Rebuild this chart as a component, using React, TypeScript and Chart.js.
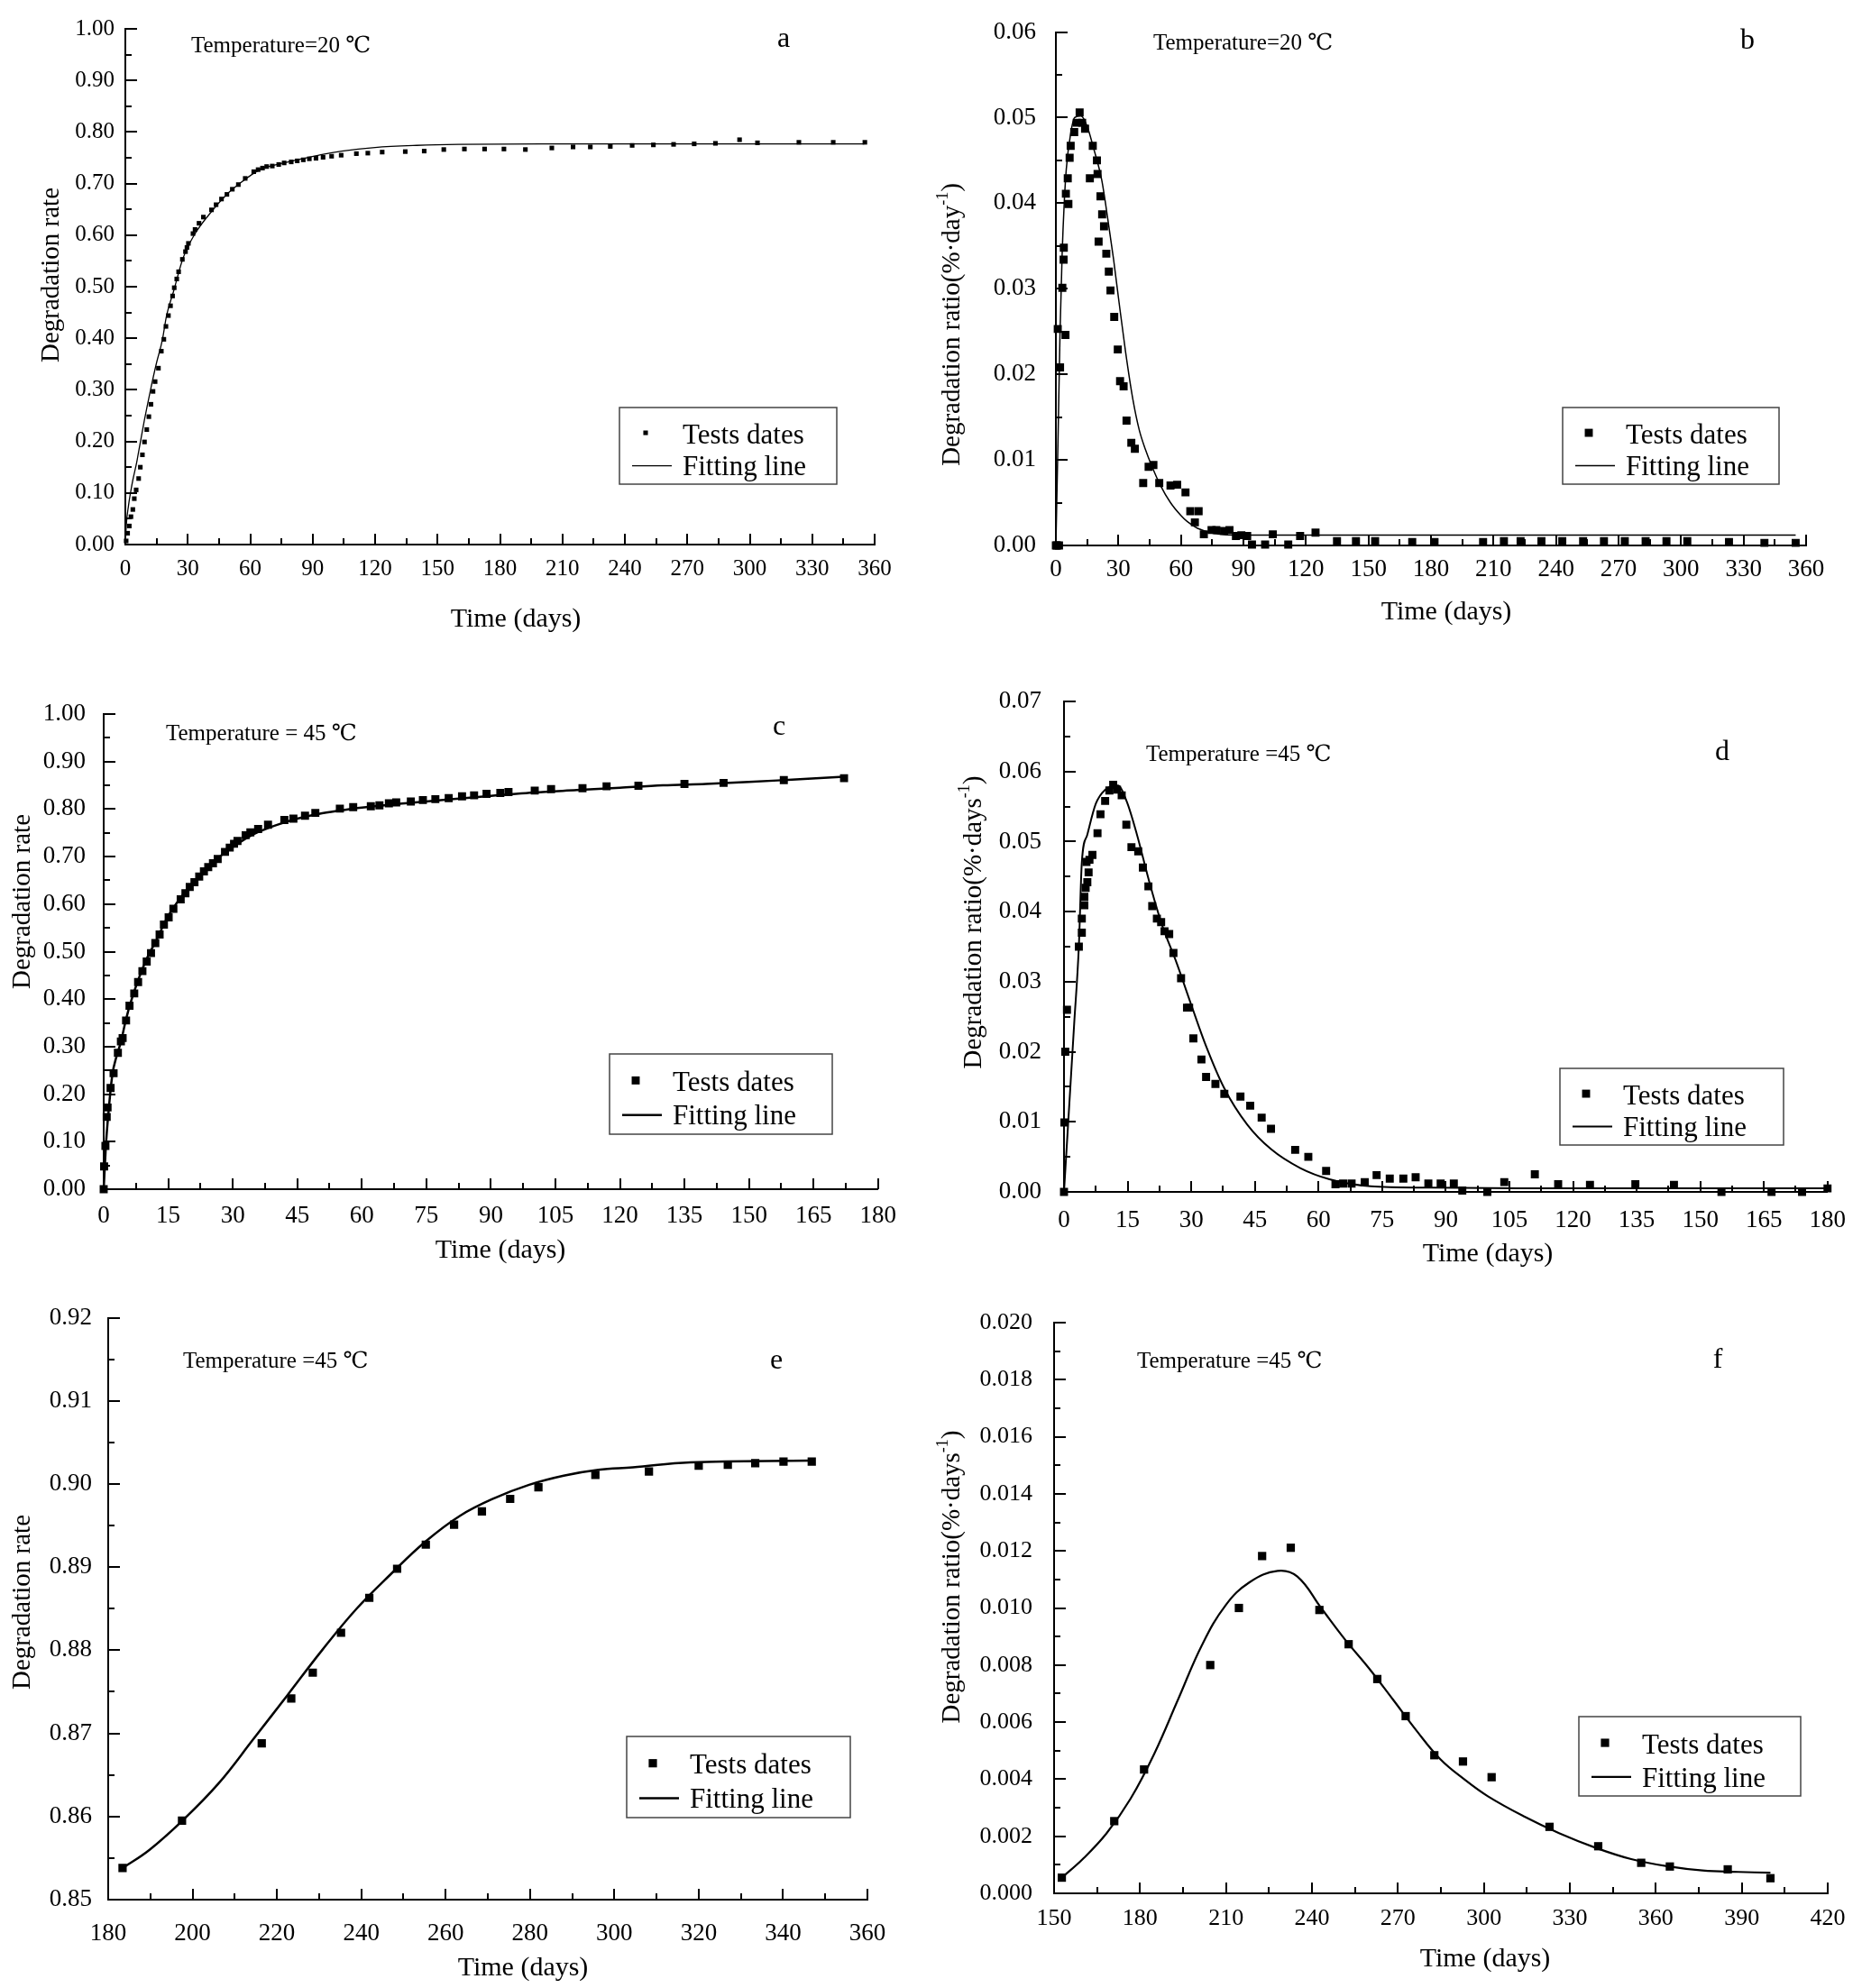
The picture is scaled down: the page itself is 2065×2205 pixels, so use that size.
import { useEffect, useRef } from 'react';
import { Chart, registerables } from 'chart.js';

Chart.register(...registerables);

const FONT = '"Liberation Serif", "Times New Roman", Tinos, "DejaVu Serif", serif';

// ---- panel a : degradation rate, 20 C
const aDays = [0.4, 1.1, 1.9, 2.7, 3.6, 4.3, 5.2, 6.4, 7.2, 8.2, 9.2, 10.3, 11.3, 12.3, 13.3, 14.3, 15.9, 17.3, 18.5, 19.5, 20.7, 21.7, 22.7, 23.5, 24.7, 25.6, 27.4, 28.9, 29.6, 30.3, 32.5, 33.5, 35.4, 37.5, 41.4, 43.6, 46.2, 48.8, 51.4, 54.3, 57.6, 61.7, 63.8, 65.9, 67.9, 70.6, 73.7, 76.3, 79.7, 82.6, 85.5, 88.4, 91.6, 95.0, 99.1, 103.7, 111.0, 116.5, 123.4, 134.5, 143.6, 153.0, 162.9, 172.6, 181.9, 192.2, 204.9, 215.1, 223.4, 233.0, 243.5, 253.7, 263.4, 273.3, 283.5, 295.1, 303.7, 323.6, 340.1, 355.3];
const aRate = [0.007, 0.022, 0.036, 0.054, 0.068, 0.089, 0.106, 0.128, 0.150, 0.174, 0.199, 0.223, 0.248, 0.272, 0.297, 0.316, 0.342, 0.375, 0.398, 0.423, 0.444, 0.463, 0.482, 0.498, 0.515, 0.529, 0.553, 0.568, 0.576, 0.584, 0.603, 0.611, 0.623, 0.635, 0.649, 0.659, 0.670, 0.679, 0.689, 0.698, 0.710, 0.723, 0.727, 0.730, 0.733, 0.734, 0.737, 0.740, 0.742, 0.744, 0.746, 0.748, 0.749, 0.751, 0.753, 0.755, 0.758, 0.759, 0.761, 0.762, 0.763, 0.766, 0.767, 0.767, 0.767, 0.766, 0.769, 0.771, 0.771, 0.772, 0.774, 0.775, 0.776, 0.777, 0.778, 0.785, 0.779, 0.780, 0.780, 0.780];
const aFitDays = [0, 0.5, 1.5, 2.6, 3.6, 5.5, 6.2, 9.1, 12, 14.9, 17.8, 19.8, 23.1, 27.7, 33.2, 41.9, 49.8, 54.9, 62.1, 66.4, 70.8, 83.8, 93.9, 104, 120, 140, 160, 200, 250, 300, 355];
const aFitRate = [0, 0.04, 0.075, 0.103, 0.125, 0.16, 0.176, 0.24, 0.298, 0.351, 0.397, 0.444, 0.49, 0.555, 0.601, 0.648, 0.683, 0.70, 0.721, 0.73, 0.735, 0.747, 0.756, 0.763, 0.77, 0.774, 0.776, 0.777, 0.777, 0.777, 0.777];

// ---- panel b : degradation ratio, 20 C
const bDays = [0, 0.5, 1.5, 0.9, 2.0, 3.1, 3.7, 3.8, 4.6, 4.8, 5.7, 6.0, 6.6, 7.1, 8.8, 10.0, 11.4, 12.6, 14.0, 16.3, 17.7, 19.7, 20.0, 20.5, 21.4, 22.2, 23.1, 24.2, 25.4, 26.2, 28.0, 29.7, 30.8, 32.5, 33.9, 36.2, 37.9, 41.9, 44.5, 46.8, 49.6, 55.0, 58.2, 62.2, 64.5, 66.7, 68.5, 71.0, 74.7, 77.0, 80.7, 83.3, 86.4, 89.0, 91.8, 94.1, 100.4, 104.1, 111.5, 117.2, 124.6, 134.9, 144.0, 153.2, 171.0, 181.7, 205.0, 215.0, 223.0, 233.0, 243.0, 253.0, 263.0, 273.0, 283.0, 293.0, 303.0, 323.0, 340.0, 355.0];
const bRatio = [0, 0, 0, 0.0253, 0.0208, 0.0301, 0.0334, 0.0348, 0.0246, 0.0411, 0.0429, 0.0399, 0.0453, 0.0467, 0.0483, 0.0494, 0.0506, 0.0494, 0.0487, 0.0429, 0.0467, 0.0450, 0.0434, 0.0355, 0.0408, 0.0387, 0.0373, 0.0341, 0.0320, 0.0298, 0.0267, 0.0229, 0.0192, 0.0186, 0.0146, 0.0120, 0.0113, 0.0073, 0.0092, 0.0094, 0.0073, 0.0070, 0.0071, 0.0062, 0.0040, 0.0027, 0.0040, 0.0013, 0.0018, 0.0018, 0.0017, 0.0018, 0.0011, 0.0012, 0.0011, 0.0001, 0.0001, 0.0013, 0.0001, 0.0011, 0.0015, 0.0005, 0.0005, 0.0005, 0.0004, 0.0004, 0.0004, 0.0005, 0.0005, 0.0005, 0.0005, 0.0005, 0.0005, 0.0005, 0.0005, 0.0005, 0.0005, 0.0004, 0.0003, 0.0003];
const bFitDays = [0, 1, 2, 3, 4, 5, 7, 9, 12, 15, 18, 22, 25, 27.7, 30, 33.4, 37, 40, 43, 46, 50, 55, 60, 63, 68, 76, 90, 150, 250, 355];
const bFitRatio = [0, 0.012, 0.025, 0.034, 0.040, 0.044, 0.048, 0.050, 0.0502, 0.049, 0.0465, 0.0427, 0.038, 0.0334, 0.029, 0.0227, 0.017, 0.0135, 0.0112, 0.0093, 0.0071, 0.005, 0.0035, 0.0028, 0.002, 0.0014, 0.0012, 0.0012, 0.0012, 0.0012];

// ---- panel c : degradation rate, 45 C
const cDays = [0, 0.1, 0.4, 0.7, 0.9, 1.6, 2.3, 3.3, 4.0, 4.4, 5.2, 6.0, 7.1, 8.0, 9.0, 10.0, 11.0, 12.0, 13.0, 14.0, 15.1, 16.2, 17.9, 19.0, 20.0, 21.1, 22.2, 23.3, 24.3, 25.4, 26.5, 28.2, 29.3, 30.3, 31.1, 33.0, 34.1, 35.9, 38.2, 42.0, 44.1, 46.8, 49.2, 54.9, 58.0, 62.1, 64.1, 66.3, 68.0, 71.4, 74.2, 77.1, 80.2, 83.3, 86.1, 89.0, 92.2, 94.1, 100.2, 104.0, 111.3, 116.9, 124.3, 135.0, 144.1, 158.1, 172.1];
const cRate = [0, 0.048, 0.091, 0.152, 0.172, 0.213, 0.244, 0.287, 0.311, 0.318, 0.355, 0.386, 0.412, 0.436, 0.459, 0.479, 0.497, 0.518, 0.536, 0.557, 0.572, 0.590, 0.610, 0.623, 0.636, 0.646, 0.658, 0.669, 0.678, 0.686, 0.695, 0.710, 0.719, 0.727, 0.733, 0.745, 0.751, 0.758, 0.767, 0.777, 0.780, 0.786, 0.792, 0.801, 0.804, 0.806, 0.808, 0.812, 0.814, 0.816, 0.819, 0.821, 0.823, 0.827, 0.829, 0.832, 0.834, 0.836, 0.839, 0.842, 0.844, 0.848, 0.849, 0.853, 0.855, 0.861, 0.865];
const cFitDays = [0, 0.5, 1, 2, 3, 4, 5, 6, 8, 10, 12, 15, 18, 21, 24, 27, 30, 33, 36, 40, 45, 50, 55, 60, 70, 80, 90, 100, 110, 120, 130, 140, 150, 160, 172];
const cFitRate = [0, 0.09, 0.15, 0.24, 0.28, 0.31, 0.35, 0.385, 0.44, 0.485, 0.52, 0.575, 0.615, 0.648, 0.676, 0.70, 0.72, 0.738, 0.752, 0.766, 0.78, 0.79, 0.797, 0.803, 0.812, 0.82, 0.828, 0.835, 0.84, 0.845, 0.85, 0.853, 0.857, 0.862, 0.868];

// ---- panel d : degradation ratio, 45 C
const dDays = [0, 0.1, 0.3, 0.7, 3.5, 4.2, 4.2, 4.8, 4.8, 5.1, 5.5, 5.3, 5.8, 6.0, 6.7, 7.9, 8.6, 9.7, 10.7, 11.6, 12.5, 13.6, 14.7, 15.9, 17.5, 18.6, 19.9, 20.8, 21.9, 22.9, 23.7, 24.8, 25.8, 27.6, 29.0, 29.5, 30.5, 32.4, 33.5, 35.7, 37.8, 41.6, 43.9, 46.6, 48.8, 54.5, 57.6, 61.8, 64.0, 65.8, 67.8, 70.9, 73.7, 76.8, 80.0, 82.9, 85.9, 88.8, 91.9, 93.9, 99.8, 103.8, 111.0, 116.5, 124.0, 134.7, 143.8, 155.0, 166.8, 174.0, 180.0];
const dRatio = [0, 0.0099, 0.0200, 0.0260, 0.0350, 0.0370, 0.0390, 0.0409, 0.0421, 0.0434, 0.0442, 0.0471, 0.0456, 0.0474, 0.0481, 0.0512, 0.0539, 0.0558, 0.0573, 0.0581, 0.0574, 0.0566, 0.0524, 0.0492, 0.0486, 0.0463, 0.0436, 0.0408, 0.0390, 0.0385, 0.0372, 0.0368, 0.0341, 0.0305, 0.0263, 0.0263, 0.0219, 0.0189, 0.0164, 0.0154, 0.0140, 0.0136, 0.0123, 0.0106, 0.0090, 0.0060, 0.0050, 0.0030, 0.0011, 0.0012, 0.0012, 0.0014, 0.0024, 0.0019, 0.0019, 0.0021, 0.0012, 0.0012, 0.0012, 0.0002, 0, 0.0014, 0.0025, 0.0011, 0.0010, 0.0011, 0.0010, 0, 0, 0, 0.0005];
const dFitDays = [0, 0.7, 2.4, 3.5, 4.2, 5.5, 7.5, 9.7, 12.7, 14.8, 17.2, 20, 23, 26.6, 30, 33.5, 37.7, 43.2, 48.8, 55.7, 62.6, 72.3, 86, 107, 180];
const dFitRatio = [0, 0.007, 0.024, 0.035, 0.047, 0.051, 0.0554, 0.0574, 0.058, 0.0557, 0.051, 0.0445, 0.0383, 0.0326, 0.0267, 0.0208, 0.0149, 0.0096, 0.0061, 0.0034, 0.0018, 0.0008, 0.0006, 0.0005, 0.0005];

// ---- panel e : degradation rate, 45 C, late stage
const eDays = [183.4, 197.5, 216.4, 223.4, 228.5, 235.2, 241.9, 248.5, 255.3, 262.0, 268.6, 275.3, 282.0, 295.5, 308.2, 320.0, 326.9, 333.4, 340.1, 346.8];
const eRate = [0.8538, 0.8595, 0.8688, 0.8742, 0.8773, 0.8821, 0.8863, 0.8898, 0.8927, 0.8951, 0.8967, 0.8982, 0.8996, 0.9011, 0.9015, 0.9022, 0.9023, 0.9025, 0.9027, 0.9027];
const eFitDays = [183.4, 189.8, 198, 206.2, 214.4, 222.5, 230.7, 238.9, 247.1, 255.3, 263.5, 271.6, 279.8, 288, 296.2, 304.4, 318, 346.8];
const eFitRate = [0.8538, 0.856, 0.8597, 0.864, 0.8693, 0.8746, 0.880, 0.885, 0.8892, 0.8931, 0.8962, 0.8983, 0.8999, 0.901, 0.9017, 0.902, 0.9026, 0.9028];

// ---- panel f : degradation ratio, 45 C, late stage
const fDays = [152.7, 171.0, 181.4, 204.5, 214.5, 222.6, 232.6, 242.6, 252.8, 262.8, 272.7, 282.7, 292.7, 302.7, 322.9, 339.9, 354.9, 364.9, 385.1, 400.0];
const fRatio = [0.00055, 0.00253, 0.00434, 0.0080, 0.0100, 0.01182, 0.01211, 0.00993, 0.00873, 0.00751, 0.00621, 0.00484, 0.00462, 0.00407, 0.00233, 0.00165, 0.00107, 0.00094, 0.00084, 0.00053];
const fFitDays = [152.7, 160, 168.3, 176.6, 185, 193.3, 201.6, 209.9, 218.2, 228, 234.9, 243.2, 251.5, 259.8, 268.2, 276.5, 284.8, 293.1, 301.4, 313.9, 326.4, 338.9, 351.4, 363.9, 376.3, 388.8, 400];
const fFitRatio = [0.00055, 0.0012, 0.0021, 0.0033, 0.0049, 0.0068, 0.0087, 0.0101, 0.0109, 0.0113, 0.0111, 0.0100, 0.0089, 0.0079, 0.0068, 0.0057, 0.0047, 0.0040, 0.0034, 0.0027, 0.0021, 0.0016, 0.0012, 0.00095, 0.0008, 0.00075, 0.00072];

const RATE_TITLE = [{ t: 'Degradation rate' }];
const DAY_TITLE = [{ t: 'Degradation ratio(%·day' }, { t: '-1', sup: true }, { t: ')' }];
const DAYS_TITLE = [{ t: 'Degradation ratio(%·days' }, { t: '-1', sup: true }, { t: ')' }];

type Seg = { t: string; sup?: boolean };
type Panel = {
  box: number[]; // canvas left, top, width, height (page px)
  area: number[]; // plot area left, top, right, bottom (page px)
  x: number[]; // min, max, step, minor
  y: number[]; // min, max, step, minor
  digits: number;
  days: number[];
  vals: number[];
  fitDays: number[];
  fitVals: number[];
  smooth: boolean;
  tickFont: number;
  xPad: number;
  yPad: number;
  pointR: number;
  lineW: number;
  xTitle: number[];
  yTitle: number[];
  yText: Seg[];
  temp: string;
  tempPos: number[];
  letter: string;
  letterPos: number[];
  legend: number[];
};

const panels: Panel[] = [
  {
    box: [0, 0, 1010, 710], area: [139, 32, 970, 604],
    x: [0, 360, 30, 15], y: [0, 1, 0.1, 0.05], digits: 2,
    days: aDays, vals: aRate, fitDays: aFitDays, fitVals: aFitRate, smooth: false,
    tickFont: 25, xPad: 15, yPad: 12, pointR: 3.6, lineW: 1.3,
    xTitle: [572, 687], yTitle: [57, 305], yText: RATE_TITLE,
    temp: 'Temperature=20 ℃', tempPos: [212, 51], letter: 'a', letterPos: [869, 44],
    legend: [687, 452, 928, 537],
  },
  {
    box: [1030, 0, 1035, 710], area: [1171, 13, 2003, 605],
    x: [0, 360, 30, 15], y: [0, 0.06, 0.01, 0.005], digits: 2,
    days: bDays, vals: bRatio, fitDays: bFitDays, fitVals: bFitRatio, smooth: false,
    tickFont: 27, xPad: 13, yPad: 22, pointR: 6.3, lineW: 1.5,
    xTitle: [1604, 679], yTitle: [1056, 360], yText: DAY_TITLE,
    temp: 'Temperature=20 ℃', tempPos: [1279, 48], letter: 'b', letterPos: [1938, 46],
    legend: [1733, 452, 1973, 537],
  },
  {
    box: [0, 720, 1010, 700], area: [115, 792, 974, 1319],
    x: [0, 180, 15, 7.5], y: [0, 1, 0.1, 0.05], digits: 2,
    days: cDays, vals: cRate, fitDays: cFitDays, fitVals: cFitRate, smooth: false,
    tickFont: 27, xPad: 16, yPad: 20, pointR: 6.3, lineW: 2.5,
    xTitle: [555, 1387], yTitle: [25, 1000], yText: RATE_TITLE,
    temp: 'Temperature = 45 ℃', tempPos: [184, 814], letter: 'c', letterPos: [864, 807],
    legend: [676, 1169, 923, 1258],
  },
  {
    box: [1030, 720, 1035, 700], area: [1180, 778, 2038, 1322],
    x: [0, 180, 15, 7.5], y: [0, 0.07, 0.01, 0.005], digits: 2,
    days: dDays, vals: dRatio, fitDays: dFitDays, fitVals: dFitRatio, smooth: false,
    tickFont: 27, xPad: 18, yPad: 25, pointR: 6.3, lineW: 2,
    xTitle: [1650, 1391], yTitle: [1080, 1023], yText: DAYS_TITLE,
    temp: 'Temperature =45 ℃', tempPos: [1271, 837], letter: 'd', letterPos: [1910, 835],
    legend: [1730, 1185, 1978, 1270],
  },
  {
    box: [0, 1430, 1010, 775], area: [120, 1460, 962, 2107],
    x: [180, 360, 20, 10], y: [0.85, 0.92, 0.01, 0.005], digits: 2,
    days: eDays, vals: eRate, fitDays: eFitDays, fitVals: eFitRate, smooth: true,
    tickFont: 27, xPad: 24, yPad: 18, pointR: 6.5, lineW: 2.5,
    xTitle: [580, 2183], yTitle: [25, 1777], yText: RATE_TITLE,
    temp: 'Temperature =45 ℃', tempPos: [203, 1510], letter: 'e', letterPos: [861, 1510],
    legend: [695, 1926, 943, 2016],
  },
  {
    box: [1030, 1430, 1035, 775], area: [1169, 1454, 2027, 2100],
    x: [150, 420, 30, 15], y: [0, 0.02, 0.002, 0.001], digits: 3,
    days: fDays, vals: fRatio, fitDays: fFitDays, fitVals: fFitRatio, smooth: true,
    tickFont: 26, xPad: 15, yPad: 24, pointR: 6.5, lineW: 2.2,
    xTitle: [1647, 2173], yTitle: [1056, 1749], yText: DAYS_TITLE,
    temp: 'Temperature =45 ℃', tempPos: [1261, 1510], letter: 'f', letterPos: [1905, 1509],
    legend: [1751, 1904, 1997, 1992],
  },
];

function drawSegs(ctx: CanvasRenderingContext2D, segs: Seg[], size: number) {
  const supSize = Math.round(size * 0.62);
  let total = 0;
  const widths = segs.map((s) => {
    ctx.font = `${s.sup ? supSize : size}px ${FONT}`;
    const w = ctx.measureText(s.t).width;
    total += w;
    return w;
  });
  let x = -total / 2;
  segs.forEach((s, i) => {
    ctx.font = `${s.sup ? supSize : size}px ${FONT}`;
    ctx.fillText(s.t, x, s.sup ? -size * 0.32 : 0);
    x += widths[i];
  });
}

// inward ticks, titles, annotations and the framed legend
function decor(p: Panel) {
  return {
    id: 'decor',
    afterDraw(chart: Chart) {
      const { ctx, chartArea } = chart;
      const xs = chart.scales.x;
      const ys = chart.scales.y;
      const ox = p.box[0];
      const oy = p.box[1];
      ctx.save();
      ctx.strokeStyle = '#000';
      ctx.fillStyle = '#000';
      ctx.lineWidth = 2;
      ctx.beginPath();
      const nx = Math.round((p.x[1] - p.x[0]) / p.x[3]);
      const rx = Math.round(p.x[2] / p.x[3]);
      for (let i = 0; i <= nx; i++) {
        const px = Math.round(xs.getPixelForValue(p.x[0] + i * p.x[3]));
        const len = i % rx === 0 ? 12 : 7;
        ctx.moveTo(px, chartArea.bottom);
        ctx.lineTo(px, chartArea.bottom - len);
      }
      const ny = Math.round((p.y[1] - p.y[0]) / p.y[3]);
      const ry = Math.round(p.y[2] / p.y[3]);
      for (let i = 0; i <= ny; i++) {
        const py = Math.round(ys.getPixelForValue(p.y[0] + i * p.y[3]));
        const len = i % ry === 0 ? 13 : 7;
        ctx.moveTo(chartArea.left, py);
        ctx.lineTo(chartArea.left + len, py);
      }
      ctx.stroke();

      // axis titles
      ctx.textBaseline = 'middle';
      ctx.textAlign = 'center';
      ctx.font = `30px ${FONT}`;
      ctx.fillText('Time (days)', p.xTitle[0] - ox, p.xTitle[1] - oy);
      ctx.save();
      ctx.translate(p.yTitle[0] - ox, p.yTitle[1] - oy);
      ctx.rotate(-Math.PI / 2);
      ctx.textAlign = 'left';
      drawSegs(ctx, p.yText, 29);
      ctx.restore();

      // temperature note and panel letter
      ctx.textAlign = 'left';
      ctx.font = `25px ${FONT}`;
      ctx.fillText(p.temp, p.tempPos[0] - ox, p.tempPos[1] - oy);
      ctx.textAlign = 'center';
      ctx.font = `32px ${FONT}`;
      ctx.fillText(p.letter, p.letterPos[0] - ox, p.letterPos[1] - oy);

      // legend
      const l = p.legend[0] - ox;
      const t = p.legend[1] - oy;
      const w = p.legend[2] - p.legend[0];
      const h = p.legend[3] - p.legend[1];
      ctx.lineWidth = 1.5;
      ctx.strokeStyle = '#444';
      ctx.strokeRect(l, t, w, h);
      const s = p.pointR * Math.SQRT2;
      ctx.fillRect(l + 29 - s / 2, t + 0.33 * h - s / 2, s, s);
      ctx.strokeStyle = '#000';
      ctx.lineWidth = p.lineW;
      ctx.beginPath();
      ctx.moveTo(l + 14, t + 0.76 * h);
      ctx.lineTo(l + 58, t + 0.76 * h);
      ctx.stroke();
      ctx.textAlign = 'left';
      ctx.font = `31px ${FONT}`;
      ctx.fillText('Tests dates', l + 70, t + 0.37 * h);
      ctx.fillText('Fitting line', l + 70, t + 0.79 * h);
      ctx.restore();
    },
  };
}

function PanelChart({ p }: { p: Panel }) {
  const canvasRef = useRef<HTMLCanvasElement>(null);

  useEffect(() => {
    if (!canvasRef.current) return;
    const [bl, bt, bw, bh] = p.box;
    const [al, at, ar, ab] = p.area;
    const tickFont = { family: FONT, size: p.tickFont, lineHeight: 1 };
    const chart = new Chart(canvasRef.current, {
      type: 'scatter',
      data: {
        datasets: [
          {
            label: 'Fitting line',
            data: p.fitDays.map((x, i) => ({ x, y: p.fitVals[i] })),
            showLine: true,
            borderColor: '#000',
            borderWidth: p.lineW,
            pointRadius: 0,
            cubicInterpolationMode: p.smooth ? 'default' : 'monotone',
            tension: p.smooth ? 0.4 : 0,
            clip: 10,
          },
          {
            label: 'Tests dates',
            data: p.days.map((x, i) => ({ x, y: p.vals[i] })),
            pointStyle: 'rect',
            pointRadius: p.pointR,
            backgroundColor: '#000',
            borderColor: '#000',
            borderWidth: 0,
            clip: 12,
          },
        ],
      },
      options: {
        animation: false,
        responsive: false,
        devicePixelRatio: 1,
        events: [],
        layout: { padding: { left: 0, top: at - bt, right: bl + bw - ar, bottom: 0 } },
        plugins: { legend: { display: false }, tooltip: { enabled: false } },
        scales: {
          x: {
            type: 'linear',
            min: p.x[0],
            max: p.x[1],
            grid: { display: false, drawTicks: false },
            border: { display: true, color: '#000', width: 2 },
            ticks: {
              stepSize: p.x[2],
              color: '#000',
              font: tickFont,
              padding: p.xPad,
              maxRotation: 0,
              autoSkip: false,
              callback: (v) => String(Math.round(Number(v))),
            },
            afterFit: (scale) => {
              scale.height = bt + bh - ab;
            },
          },
          y: {
            type: 'linear',
            min: p.y[0],
            max: p.y[1],
            grid: { display: false, drawTicks: false },
            border: { display: true, color: '#000', width: 2 },
            ticks: {
              stepSize: p.y[2],
              color: '#000',
              font: tickFont,
              padding: p.yPad,
              autoSkip: false,
              callback: (v) => Number(v).toFixed(p.digits),
            },
            afterFit: (scale) => {
              scale.width = al - bl;
            },
          },
        },
      },
      plugins: [decor(p)],
    });

    return () => {
      chart.destroy();
    };
  }, [p]);

  return (
    <canvas
      ref={canvasRef}
      width={p.box[2]}
      height={p.box[3]}
      style={{ position: 'absolute', left: p.box[0], top: p.box[1], width: p.box[2], height: p.box[3] }}
    />
  );
}

export default function App() {
  return (
    <div style={{ position: 'absolute', left: 0, top: 0, width: 2065, height: 2205, background: '#fff' }}>
      {panels.map((p) => (
        <PanelChart key={p.letter} p={p} />
      ))}
    </div>
  );
}
